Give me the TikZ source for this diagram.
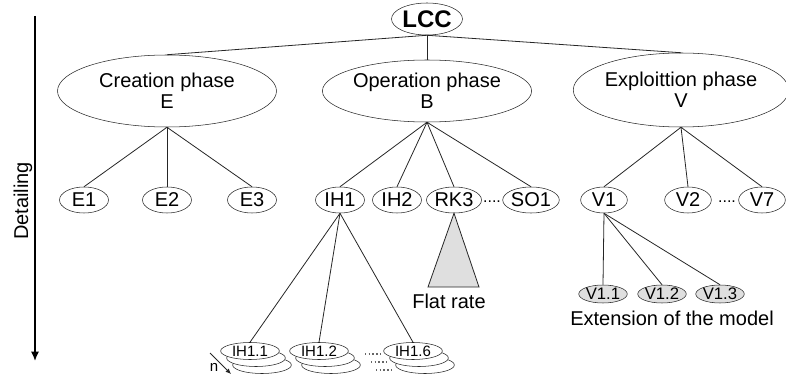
\documentclass[tikz,border=0pt]{standalone}
\usepackage{fontspec}
\setmainfont{Liberation Sans}
\usetikzlibrary{shapes.geometric,arrows.meta}

\begin{document}
\begin{tikzpicture}[x=0.75pt,y=-0.75pt,
  phase/.style={draw=black!85,ellipse,inner sep=0pt,align=center,font=\fontsize{15}{16}\selectfont},
  item/.style={draw=black!85,ellipse,inner sep=0pt,minimum width=36.75pt,minimum height=19.5pt,font=\fontsize{15}{18}\selectfont},
  sub/.style={draw=black!85,ellipse,inner sep=0pt,minimum width=44pt,minimum height=12.75pt,fill=white,font=\fontsize{11.25}{13}\selectfont},
  ext/.style={draw=black!85,ellipse,inner sep=0pt,minimum width=32.5pt,minimum height=13.5pt,fill=gray!25,font=\fontsize{12.5}{14}\selectfont},
  branch/.style={draw=black!85,line width=0.6pt},
  dotrow/.style={draw=black!60,line width=1pt,dash pattern=on 1.1pt off 1.7pt}
]
  \useasboundingbox (0,0) rectangle (786,378);
  % detailing axis
  \coordinate (axistop) at (35,16);
  \coordinate (axisend) at (35,361);
  \draw[line width=1.1pt,-{Latex[length=7pt,width=6pt]}] (axistop) -- (axisend);
  \node[rotate=90,font=\fontsize{15}{18}\selectfont] (detail) at (23,201) {Detailing};
  % root and phases
  \node[draw=black!85,ellipse,inner sep=0pt,minimum width=53.25pt,minimum height=24pt,
        font=\fontsize{18}{20}\bfseries] (lcc) at (427,19) {LCC};
  \node[phase,minimum width=164.25pt,minimum height=54pt] (crea) at (167,91) {Creation phase\\E};
  \node[phase,minimum width=134.25pt,minimum height=46.5pt] (oper) at (427,91) {Operation phase\\B};
  \node[phase,minimum width=154.5pt,minimum height=55.5pt] (expl) at (681,90) {Exploittion phase\\V};
  \foreach \p in {crea,oper,expl}
    \draw[branch] (lcc.south) -- (\p.north);
  % second level
  \foreach \n/\x in {E1/84,E2/167,E3/252}
  {
    \node[item] (\n) at (\x,200) {\n};
    \draw[branch] (crea.south) -- (\n.north);
  }
  \foreach \n/\x in {IH1/340,IH2/397,RK3/454,SO1/531}
  {
    \node[item] (\n) at (\x,200) {\n};
    \draw[branch] (oper.south) -- (\n.north);
  }
  \foreach \n/\x in {V1/604,V2/688,V7/762}
  {
    \node[item,minimum width=35pt] (\n) at (\x,200) {\n};
    \draw[branch] (expl.south) -- (\n.north);
  }
  \node[font=\fontsize{12}{12}\selectfont,inner sep=0pt] (gap1) at (492,202) {....};
  \node[font=\fontsize{12}{12}\selectfont,inner sep=0pt] (gap2) at (727,202) {....};
  % flat rate
  \draw[draw=black!85,line width=0.6pt,fill=gray!25] (RK3.south) -- (428,287) -- (479,287) -- cycle;
  \node[font=\fontsize{15}{18}\selectfont] (flat) at (449,301) {Flat rate};
  % refinement of IH1
  \foreach \n/\x/\l in {ih11/250/IH1.1,ih12/319/IH1.2,ih16/413/IH1.6}
  {
    \foreach \o in {2,1}
      \node[sub] at (\x+6*\o,351+7*\o) {};
    \node[sub] (\n) at (\x,351) {\l};
    \draw[branch] (IH1.south) -- (\n.north);
  }
  \foreach \x/\y in {365/354,371/362,376/370}
    \draw[dotrow] (\x,\y) -- ++(15,0);
  \coordinate (nfrom) at (210,353);
  \coordinate (nto) at (231,374);
  \draw[branch,-{Latex[length=4pt,width=3.5pt]}] (nfrom) -- (nto);
  \node[font=\fontsize{11.25}{12}\selectfont,inner sep=0pt] (nlabel) at (214,367) {n};
  % extension of V1
  \foreach \n/\x/\l in {v11/603/V1.1,v12/662/V1.2,v13/720/V1.3}
  {
    \node[ext] (\n) at (\x,294) {\l};
    \draw[branch] (V1.south) -- (\n.north);
  }
  \node[font=\fontsize{15}{18}\selectfont] (extlabel) at (672,318) {Extension of the model};
\end{tikzpicture}
\end{document}
